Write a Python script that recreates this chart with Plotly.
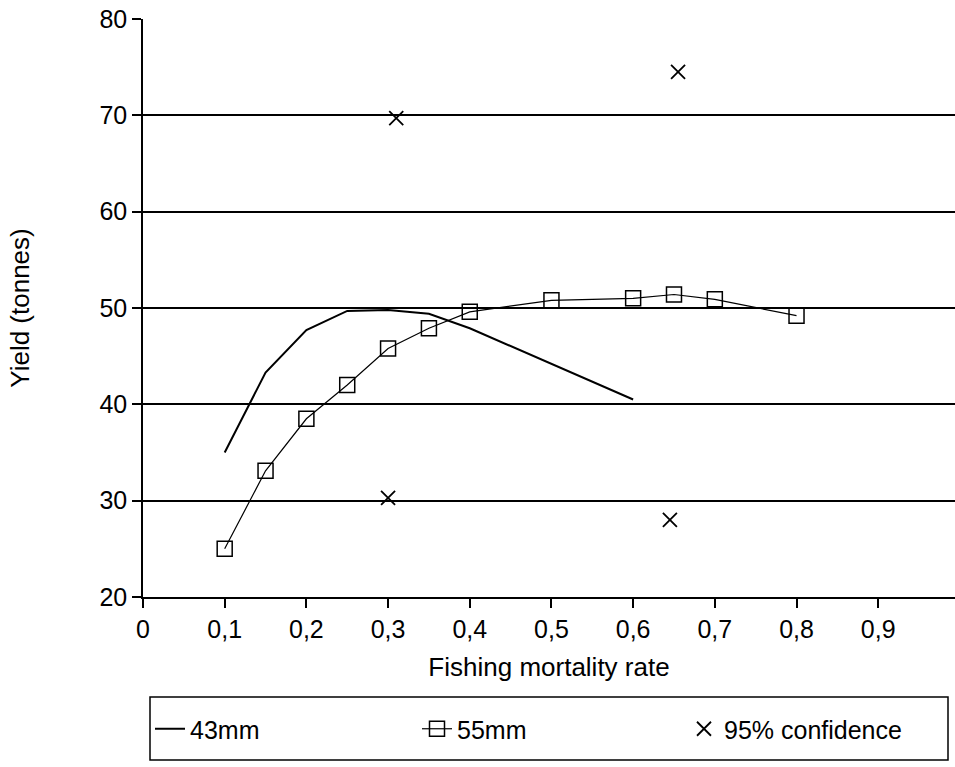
import plotly.graph_objects as go

# Data
f43_x = [0.1, 0.15, 0.2, 0.25, 0.3, 0.35, 0.4, 0.5, 0.6]
f43_y = [35.0, 43.3, 47.7, 49.7, 49.8, 49.4, 47.9, 44.2, 40.5]
f55_x = [0.1, 0.15, 0.2, 0.25, 0.3, 0.35, 0.4, 0.5, 0.6, 0.65, 0.7, 0.8]
f55_y = [25.0, 33.1, 38.5, 42.0, 45.8, 47.9, 49.6, 50.8, 51.0, 51.4, 50.9, 49.2]
conf_x = [0.30, 0.31, 0.645, 0.655]
conf_y = [30.3, 69.7, 28.0, 74.5]
x_ticks = [0, 0.1, 0.2, 0.3, 0.4, 0.5, 0.6, 0.7, 0.8, 0.9]
x_tick_text = ["0", "0,1", "0,2", "0,3", "0,4", "0,5", "0,6", "0,7", "0,8", "0,9"]
y_ticks = [20, 30, 40, 50, 60, 70, 80]

FONT = "Liberation Sans, Arial, sans-serif"

fig = go.Figure()
fig.add_trace(go.Scatter(x=f43_x, y=f43_y, mode="lines", name="43mm",
                         line=dict(color="black", width=2)))
fig.add_trace(go.Scatter(x=f55_x, y=f55_y, mode="lines+markers", name="55mm",
                         line=dict(color="black", width=1.2),
                         marker=dict(symbol="square-open", size=15, color="black",
                                     line=dict(width=1.5, color="black"))))
fig.add_trace(go.Scatter(x=conf_x, y=conf_y, mode="markers", name="95% confidence",
                         marker=dict(symbol="x-thin", size=14, color="black",
                                     line=dict(width=1.8, color="black"))))

L, R, T, B = 143, 0, 19, 170
W, H = 955, 767
pw = W - L - R
ph = H - T - B

def px(x):
    return (x - L) / pw

def py(y):
    return (H - B - y) / ph

fig.update_layout(
    width=W, height=H,
    margin=dict(l=L, r=R, t=T, b=B),
    plot_bgcolor="white", paper_bgcolor="white",
    font=dict(family=FONT, color="black", size=24),
    showlegend=True,
    legend=dict(orientation="h", x=px(150), y=py(729), xanchor="left", yanchor="middle",
                entrywidth=222, entrywidthmode="pixels",
                font=dict(size=25, family=FONT), bgcolor="rgba(0,0,0,0)",
                borderwidth=0),
    shapes=[dict(type="rect", xref="paper", yref="paper",
                 x0=px(150), x1=px(948), y0=py(697), y1=py(760),
                 line=dict(color="black", width=1.5))],
)
fig.update_xaxes(range=[0, 0.994], tickvals=x_ticks, ticktext=x_tick_text,
                 ticks="outside", ticklen=9, tickwidth=1.5, tickcolor="black",
                 showline=True, linecolor="black", linewidth=1.5,
                 showgrid=False, zeroline=False,
                 tickfont=dict(size=25, family=FONT),
                 title=dict(text="Fishing mortality rate", font=dict(size=26, family=FONT),
                            standoff=16))
fig.update_yaxes(range=[20, 80], tickvals=y_ticks,
                 ticks="outside", ticklen=9, tickwidth=1.5, tickcolor="black",
                 showline=True, linecolor="black", linewidth=1.5,
                 showgrid=True, gridcolor="black", gridwidth=1.5, zeroline=False,
                 tickfont=dict(size=25, family=FONT),
                 title=dict(text="Yield (tonnes)", font=dict(size=26, family=FONT),
                            standoff=62))

fig.write_html("out.html")
